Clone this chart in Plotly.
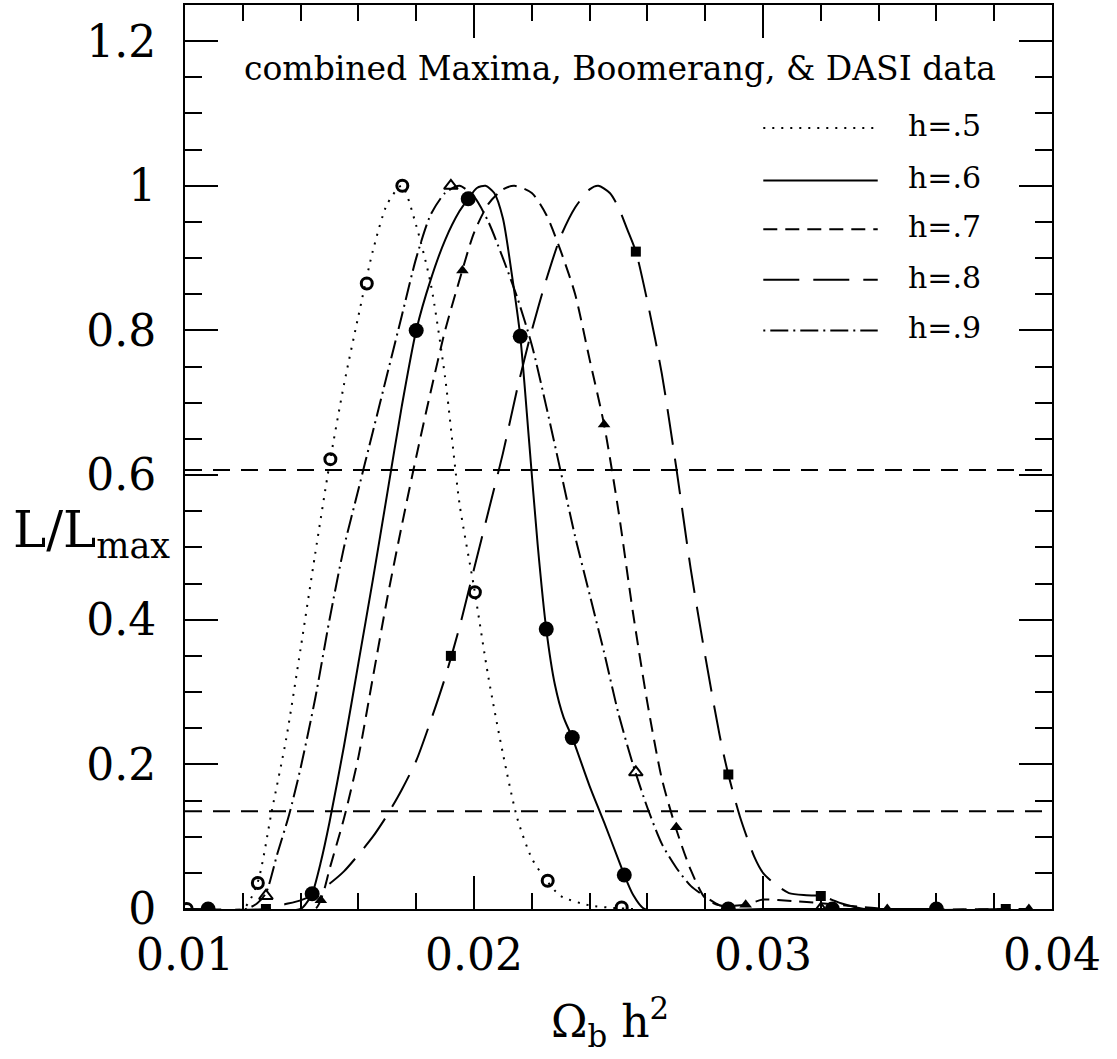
import plotly.graph_objects as go

# ---------------- data ----------------
# smooth likelihood curves (Omega_b h^2, L/Lmax)
h5_x = [0.0100, 0.0120, 0.0125, 0.0130, 0.0135, 0.0140, 0.0145, 0.0150, 0.0155, 0.0160,
        0.0165, 0.0170, 0.0175, 0.0180, 0.0185, 0.0190, 0.0195, 0.0200, 0.0205, 0.0210,
        0.0215, 0.0220, 0.0225, 0.0230, 0.0240, 0.0250, 0.0255]
h5_y = [0.0, 0.0, 0.035, 0.135, 0.235, 0.36, 0.49, 0.615, 0.725, 0.82,
        0.91, 0.975, 1.0, 0.945, 0.865, 0.735, 0.56, 0.445, 0.32, 0.215,
        0.125, 0.07, 0.04, 0.018, 0.005, 0.001, 0.0]

h6_x = [0.0100, 0.0140, 0.0142, 0.0144, 0.0147, 0.0150, 0.0155, 0.0160, 0.0165, 0.0170,
        0.0175, 0.0180, 0.0185, 0.0190, 0.0195, 0.0198, 0.0201, 0.0204, 0.0207, 0.0210,
        0.0213, 0.0216, 0.0219, 0.0222, 0.0225, 0.0228, 0.0231, 0.0234, 0.0240, 0.0245,
        0.0250, 0.0252, 0.0255, 0.0259, 0.0300, 0.0360]
h6_y = [0.0, 0.0, 0.008, 0.021, 0.065, 0.12, 0.225, 0.34, 0.455, 0.575,
        0.695, 0.80, 0.87, 0.925, 0.965, 0.982, 0.997, 1.0, 0.99, 0.955,
        0.88, 0.792, 0.65, 0.505, 0.387, 0.31, 0.265, 0.237, 0.17, 0.12,
        0.068, 0.047, 0.02, 0.0, 0.0, 0.0]

h7_x = [0.0100, 0.0145, 0.0148, 0.0150, 0.0155, 0.0160, 0.0165, 0.0170, 0.0175, 0.0180,
        0.0185, 0.0190, 0.0195, 0.0200, 0.0205, 0.0210, 0.0214, 0.0220, 0.0225, 0.0230,
        0.0235, 0.0240, 0.0245, 0.0250, 0.0255, 0.0260, 0.0265, 0.0270, 0.0275, 0.0280,
        0.0285, 0.0294, 0.0300, 0.0310, 0.0320, 0.0334, 0.0343, 0.0392]
h7_y = [0.0, 0.0, 0.025, 0.055, 0.125, 0.21, 0.32, 0.43, 0.53, 0.625,
        0.715, 0.80, 0.87, 0.935, 0.975, 0.995, 1.0, 0.99, 0.96, 0.91,
        0.85, 0.76, 0.67, 0.55, 0.41, 0.285, 0.18, 0.11, 0.054, 0.015,
        0.005, 0.006, 0.013, 0.011, 0.008, 0.003, 0.0, 0.0]

h8_x = [0.0100, 0.0128, 0.0134, 0.0140, 0.0145, 0.0150, 0.0155, 0.0160, 0.0165, 0.0170,
        0.0175, 0.0180, 0.0185, 0.0190, 0.0195, 0.0200, 0.0205, 0.0210, 0.0215, 0.0220,
        0.0225, 0.0230, 0.0235, 0.0240, 0.0243, 0.0247, 0.0250, 0.0253, 0.0256, 0.0260,
        0.0265, 0.0270, 0.0275, 0.0280, 0.0285, 0.0288, 0.0292, 0.0297, 0.0300, 0.0304,
        0.0309, 0.0315, 0.0320, 0.0327, 0.0335, 0.0384]
h8_y = [0.0, 0.0, 0.006, 0.012, 0.021, 0.035, 0.052, 0.075, 0.10, 0.13,
        0.165, 0.205, 0.26, 0.32, 0.39, 0.47, 0.55, 0.63, 0.72, 0.80,
        0.87, 0.93, 0.97, 0.995, 1.0, 0.99, 0.97, 0.94, 0.909, 0.84,
        0.74, 0.61, 0.47, 0.35, 0.24, 0.186, 0.128, 0.072, 0.05, 0.035,
        0.022, 0.019, 0.018, 0.008, 0.0, 0.0]

h9_x = [0.0100, 0.0121, 0.0125, 0.0128, 0.0132, 0.0136, 0.0140, 0.0145, 0.0150, 0.0155,
        0.0160, 0.0165, 0.0170, 0.0175, 0.0180, 0.0185, 0.0190, 0.0195, 0.0200, 0.0205,
        0.0210, 0.0215, 0.0220, 0.0225, 0.0230, 0.0235, 0.0240, 0.0245, 0.0250, 0.0255,
        0.0260, 0.0265, 0.0270, 0.0275, 0.0280, 0.0285, 0.0290]
h9_y = [0.0, 0.0, 0.008, 0.022, 0.077, 0.13, 0.195, 0.29, 0.40, 0.50,
        0.58, 0.66, 0.74, 0.82, 0.90, 0.96, 0.99, 1.0, 0.985, 0.95,
        0.90, 0.845, 0.78, 0.695, 0.605, 0.515, 0.435, 0.355, 0.27, 0.20,
        0.14, 0.09, 0.057, 0.032, 0.017, 0.005, 0.0]

# computed grid points (markers)
h5_mx = [0.01006, 0.01252, 0.01503, 0.01629, 0.01752, 0.02003, 0.02255, 0.02511]
h5_my = [0.0, 0.036, 0.622, 0.865, 1.0, 0.438, 0.039, 0.002]
h6_mx = [0.0108, 0.0144, 0.0180, 0.0198, 0.0216, 0.0225, 0.0234, 0.0252, 0.0288, 0.0324, 0.0360]
h6_my = [0.0, 0.021, 0.800, 0.982, 0.792, 0.387, 0.237, 0.047, 0.0, 0.0, 0.0]
h7_mx = [0.0147, 0.0196, 0.0245, 0.0270, 0.0294, 0.0343, 0.0392]
h7_my = [0.012, 0.883, 0.670, 0.113, 0.006, 0.0, 0.0]
h8_mx = [0.0128, 0.0192, 0.0256, 0.0288, 0.0320, 0.0384]
h8_my = [0.0, 0.350, 0.909, 0.186, 0.018, 0.0]
h9_mx = [0.0128, 0.0192, 0.0256, 0.0320]
h9_my = [0.018, 1.0, 0.189, 0.0]

# confidence levels (horizontal dashed lines)
conf_levels = [0.607, 0.135]
x_range = [0.01, 0.04]
y_range = [0.0, 1.25]

series_labels = ["h=.5", "h=.6", "h=.7", "h=.8", "h=.9"]
title_text = "combined Maxima, Boomerang, & DASI data"

# ---------------- styles ----------------
FONT = "DejaVu Serif"
dashes = ["2px,7px", "solid", "14px,8px", "36px,14px", "2px,5px,18px,5px"]
markers = [
    dict(symbol="circle-open", size=11, color="black", line=dict(width=3, color="black")),
    dict(symbol="circle", size=15, color="black"),
    dict(symbol="triangle-up", size=11, color="black"),
    dict(symbol="square", size=10, color="black"),
    dict(symbol="triangle-up-open", size=12, color="black", line=dict(width=2, color="black")),
]

curves = [(h5_x, h5_y), (h6_x, h6_y), (h7_x, h7_y), (h8_x, h8_y), (h9_x, h9_y)]
points = [(h5_mx, h5_my), (h6_mx, h6_my), (h7_mx, h7_my), (h8_mx, h8_my), (h9_mx, h9_my)]

fig = go.Figure()

for lvl in conf_levels:
    fig.add_trace(go.Scatter(x=x_range, y=[lvl, lvl], mode="lines",
                             line=dict(color="black", width=2, dash="17px,11px"),
                             showlegend=False, hoverinfo="skip"))

for (cx, cy), d, lab in zip(curves, dashes, series_labels):
    fig.add_trace(go.Scatter(x=cx, y=cy, mode="lines", name=lab,
                             line=dict(color="black", width=2, dash=d, shape="spline", smoothing=0.7),
                             showlegend=False))

for (mx, my), m, lab in zip(points, markers, series_labels):
    fig.add_trace(go.Scatter(x=mx, y=my, mode="markers", name=lab, marker=m,
                             showlegend=False))

# hand-drawn legend (line samples + labels), in paper coordinates
row_y = [0.864, 0.806, 0.752, 0.696, 0.640]
for ry, d, lab in zip(row_y, dashes, series_labels):
    fig.add_shape(type="line", xref="paper", yref="paper", x0=0.667, x1=0.799, y0=ry, y1=ry,
                  line=dict(color="black", width=2, dash=d))
    fig.add_annotation(xref="paper", yref="paper", x=0.832, y=ry + 0.003, text=lab,
                       showarrow=False, xanchor="left", yanchor="middle",
                       font=dict(family=FONT, size=30, color="black"))

fig.add_annotation(xref="paper", yref="paper", x=0.502, y=0.930, text=title_text,
                   showarrow=False, xanchor="center", yanchor="middle",
                   font=dict(family=FONT, size=33, color="black"))

fig.add_annotation(xref="paper", yref="paper", x=-0.015, y=0.415,
                   text="L/L<sub>max</sub>", showarrow=False, xanchor="right", yanchor="middle",
                   font=dict(family=FONT, size=50, color="black"))

fig.add_annotation(xref="paper", yref="paper", x=0.49, y=-0.125,
                   text="Ω<sub>b</sub> h<sup>2</sup>", showarrow=False, xanchor="center",
                   yanchor="middle", font=dict(family=FONT, size=44, color="black"))

axis_common = dict(showline=True, linecolor="black", linewidth=2, mirror="ticks",
                   ticks="inside", tickcolor="black", tickwidth=2, ticklen=33,
                   showgrid=False, zeroline=False, automargin=False,
                   tickfont=dict(family=FONT, size=44, color="black"))

fig.update_xaxes(range=x_range, dtick=0.01, tick0=0.0,
                 minor=dict(dtick=0.002, ticks="inside", ticklen=16, tickwidth=2,
                            tickcolor="black", showgrid=False),
                 ticklabelstandoff=6, **axis_common)
fig.update_yaxes(range=y_range, dtick=0.2, tick0=0.0,
                 minor=dict(dtick=0.05, ticks="inside", ticklen=17, tickwidth=2,
                            tickcolor="black", showgrid=False),
                 ticklabelstandoff=18, **axis_common)

fig.update_layout(width=1117, height=1059,
                  margin=dict(l=185, r=65, t=5, b=150),
                  paper_bgcolor="white", plot_bgcolor="white",
                  showlegend=False)

fig.write_html("out.html", config={"displayModeBar": False},
               post_script="document.body.style.margin='0px';document.body.style.overflow='hidden';")
